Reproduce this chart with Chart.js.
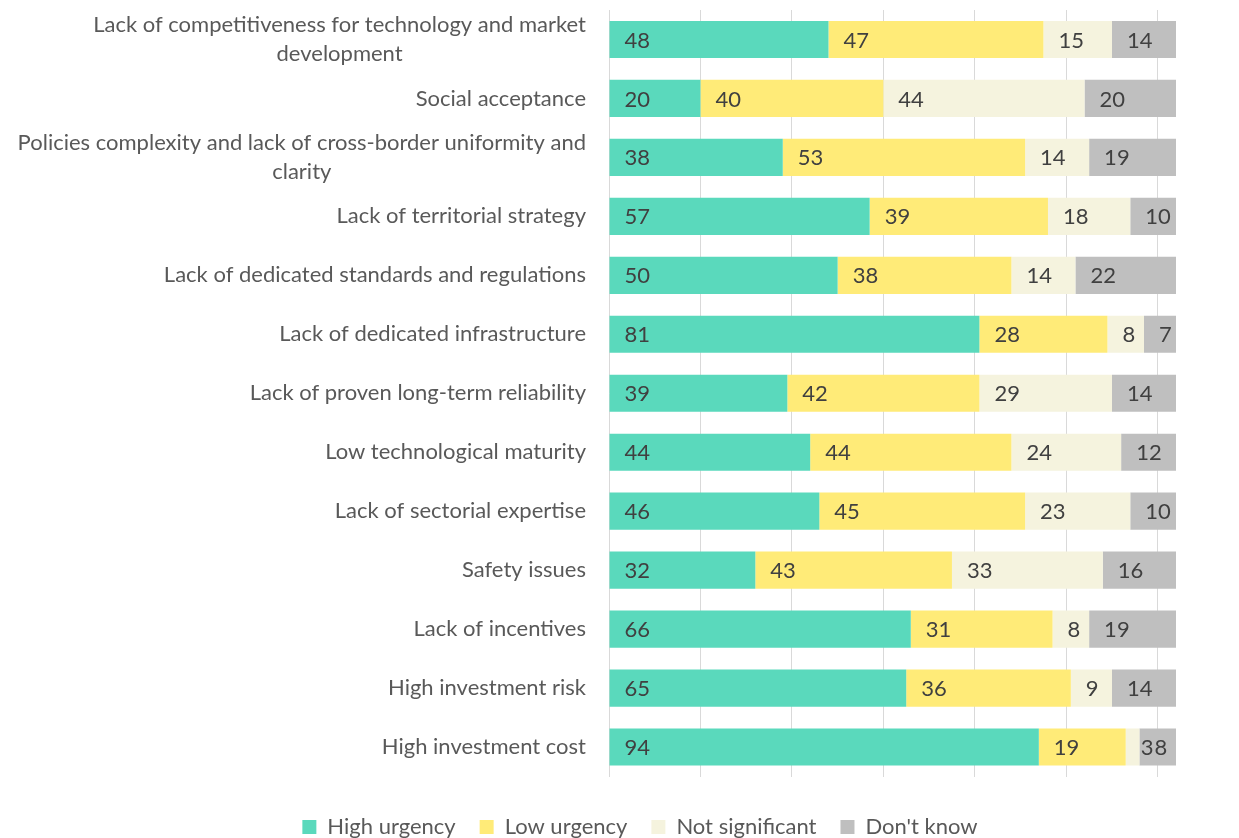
<!DOCTYPE html>
<html>
<head>
<meta charset="utf-8">
<script src="https://cdn.jsdelivr.net/npm/chart.js@4"></script>
<style>
  html, body { margin: 0; padding: 0; background: #fff; overflow: hidden; }
  #wrap { width: 1239px; height: 838px; overflow: hidden; }
</style>
</head>
<body>
<div id="wrap"><canvas id="barriersChart" width="1239" height="848"></canvas></div>
<script>
// Barriers ranked by respondents, stacked horizontally
const categories = [
  ["Lack of competitiveness for technology and market", "development"],
  "Social acceptance",
  ["Policies complexity and lack of cross-border uniformity and", "clarity"],
  "Lack of territorial strategy",
  "Lack of dedicated standards and regulations",
  "Lack of dedicated infrastructure",
  "Lack of proven long-term reliability",
  "Low technological maturity",
  "Lack of sectorial expertise",
  "Safety issues",
  "Lack of incentives",
  "High investment risk",
  "High investment cost",
];
const highUrgency = [48, 20, 38, 57, 50, 81, 39, 44, 46, 32, 66, 65, 94];
const lowUrgency = [47, 40, 53, 39, 38, 28, 42, 44, 45, 43, 31, 36, 19];
const notSignificant = [15, 44, 14, 18, 14, 8, 29, 24, 23, 33, 8, 9, 3];
const dontKnow = [14, 20, 19, 10, 22, 7, 14, 12, 10, 16, 19, 14, 8];
const seriesNames = ["High urgency", "Low urgency", "Not significant", "Don't know"];

const FONT = "Lato, 'Noto Sans', sans-serif";
const LABEL_SIZE = 22;

Chart.defaults.font.family = FONT;
Chart.defaults.color = "#595959";

// Category names: right aligned, wrapped lines centred on each other
const categoryLabels = {
  id: "categoryLabels",
  afterDraw(chart) {
    const { ctx } = chart;
    const yScale = chart.scales.y;
    const right = chart.chartArea.left - 23;
    const lineH = 29;
    ctx.save();
    ctx.font = `${LABEL_SIZE}px ${FONT}`;
    ctx.fillStyle = "#595959";
    ctx.textBaseline = "middle";
    ctx.textAlign = "center";
    categories.forEach((label, i) => {
      const lines = Array.isArray(label) ? label : [label];
      const widest = Math.max(...lines.map((l) => ctx.measureText(l).width));
      const cx = right - widest / 2;
      const cy = yScale.getPixelForTick(i);
      lines.forEach((line, j) => {
        ctx.fillText(line, cx, cy + (j - (lines.length - 1) / 2) * lineH);
      });
    });
    ctx.restore();
  },
};

// Value labels at the inside base of each segment
const valueLabels = {
  id: "valueLabels",
  afterDatasetsDraw(chart) {
    const { ctx } = chart;
    ctx.save();
    ctx.font = `${LABEL_SIZE}px ${FONT}`;
    ctx.fillStyle = "#404040";
    ctx.textBaseline = "middle";
    ctx.textAlign = "left";
    chart.data.datasets.forEach((ds, di) => {
      chart.getDatasetMeta(di).data.forEach((bar, i) => {
        const start = Math.min(bar.base, bar.x);
        ctx.fillText(String(ds.data[i]), start + 15, bar.y + 1);
      });
    });
    ctx.restore();
  },
};

const ctx = document.getElementById("barriersChart").getContext("2d");
const barriersChart = new Chart(ctx, {
  type: "bar",
  data: {
    labels: categories,
    datasets: [
      { label: seriesNames[0], data: highUrgency, backgroundColor: "#5ad9bc" },
      { label: seriesNames[1], data: lowUrgency, backgroundColor: "#ffeb78" },
      { label: seriesNames[2], data: notSignificant, backgroundColor: "#f5f3de" },
      { label: seriesNames[3], data: dontKnow, backgroundColor: "#bfbfbf" },
    ],
  },
  options: {
    indexAxis: "y",
    responsive: false,
    animation: false,
    barPercentage: 0.63,
    categoryPercentage: 1,
    // left padding pushes the centred legend to the right
    layout: { padding: { top: 10, right: 63, bottom: 0, left: 104 } },
    plugins: {
      tooltip: { enabled: false },
      legend: {
        position: "bottom",
        labels: {
          boxWidth: 14,
          boxHeight: 14,
          padding: 24,
          color: "#595959",
          font: { size: LABEL_SIZE },
        },
      },
    },
    scales: {
      x: {
        stacked: true,
        min: 0,
        max: 124,
        ticks: { display: false, stepSize: 20, includeBounds: false },
        grid: { color: "#d9d9d9", lineWidth: 1, drawTicks: false },
        border: { display: false },
        afterFit(scale) {
          scale.height = 15.5;
        },
      },
      y: {
        stacked: true,
        ticks: { display: false },
        grid: { display: false },
        border: { display: false },
        afterFit(scale) {
          scale.width = 505;
        },
      },
    },
  },
  plugins: [categoryLabels, valueLabels],
});
</script>
</body>
</html>
